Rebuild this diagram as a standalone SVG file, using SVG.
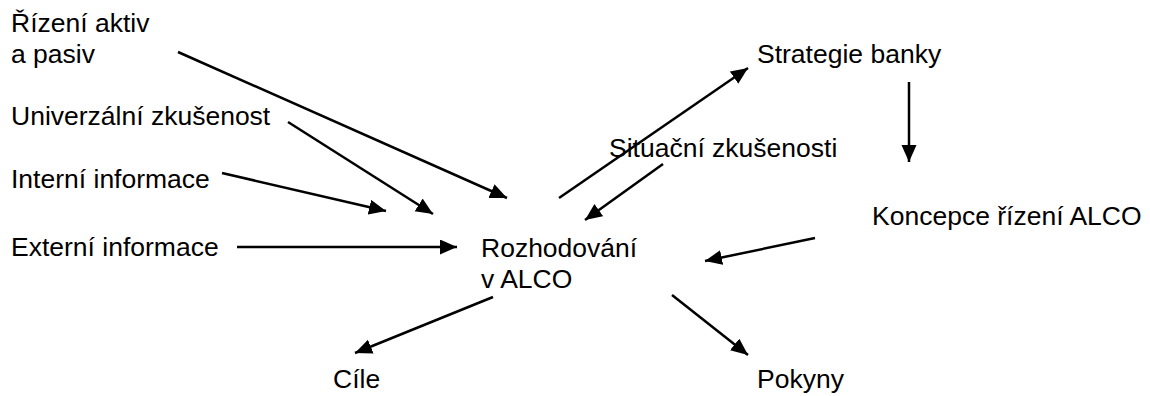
<svg xmlns="http://www.w3.org/2000/svg" width="1150" height="396" viewBox="0 0 1150 396">
<style>
text{font-family:"Liberation Sans",Arial,sans-serif;font-size:26.5px;fill:#000}
.c line{stroke:#000;stroke-width:2.5;fill:none}
</style>
<defs>
<marker id="ah" markerUnits="userSpaceOnUse" markerWidth="19" markerHeight="16" refX="17" refY="7.5" orient="auto"><path d="M0,0 L17,7.5 L0,15 z" fill="#000"/></marker>
</defs>
<rect width="1150" height="396" fill="#fff"/>
<g id="n-rizeni"><text x="11" y="32">Řízení aktiv</text><text x="11" y="63">a pasiv</text></g>
<g id="n-univerzalni"><text x="11" y="125">Univerzální zkušenost</text></g>
<g id="n-interni"><text x="11" y="188">Interní informace</text></g>
<g id="n-externi"><text x="11" y="256">Externí informace</text></g>
<g id="n-rozhodovani"><text x="481" y="257">Rozhodování</text><text x="481" y="288">v ALCO</text></g>
<g id="n-strategie"><text x="757" y="63">Strategie banky</text></g>
<g id="n-situacni"><text x="609" y="157">Situační zkušenosti</text></g>
<g id="n-koncepce"><text x="872" y="225">Koncepce řízení ALCO</text></g>
<g id="n-cile"><text x="333" y="388">Cíle</text></g>
<g id="n-pokyny"><text x="757" y="388">Pokyny</text></g>
<g class="c" id="connectors">
<line x1="178" y1="52" x2="507" y2="198" marker-end="url(#ah)"/>
<line x1="288" y1="122" x2="433" y2="214" marker-end="url(#ah)"/>
<line x1="222" y1="173" x2="386" y2="211" marker-end="url(#ah)"/>
<line x1="237" y1="247" x2="457" y2="247" marker-end="url(#ah)"/>
<line x1="559" y1="198" x2="748" y2="68" marker-end="url(#ah)"/>
<line x1="663" y1="164" x2="585" y2="220" marker-end="url(#ah)"/>
<line x1="909" y1="82" x2="909" y2="162" marker-end="url(#ah)"/>
<line x1="815" y1="238" x2="705" y2="261" marker-end="url(#ah)"/>
<line x1="493" y1="297" x2="355" y2="353" marker-end="url(#ah)"/>
<line x1="672" y1="295" x2="748" y2="355" marker-end="url(#ah)"/>
</g>
</svg>
